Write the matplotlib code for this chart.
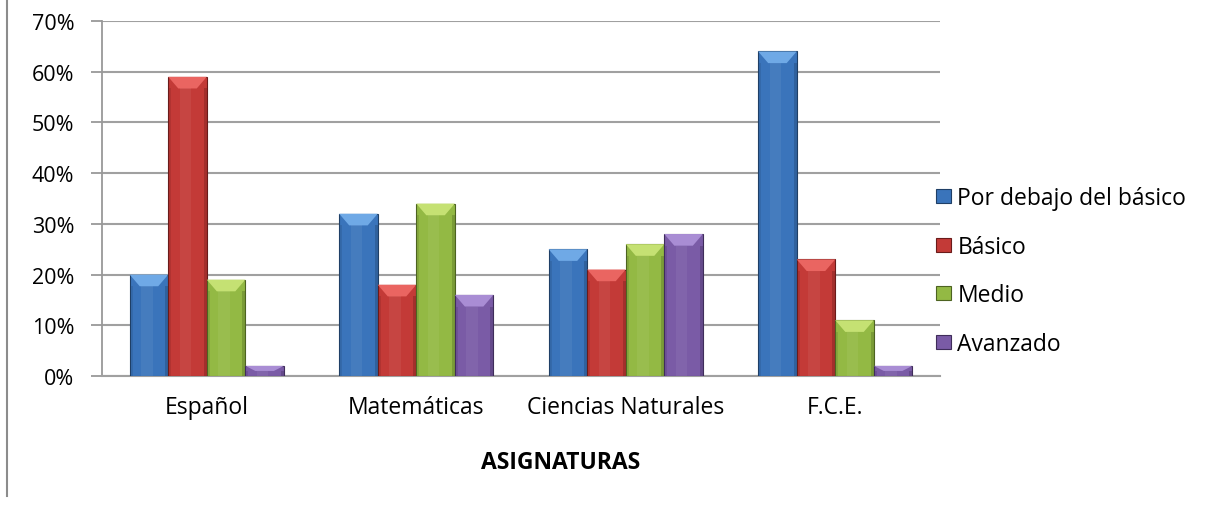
import matplotlib.pyplot as plt
from matplotlib.patches import Polygon, Patch
from matplotlib.lines import Line2D
import numpy as np

plt.rcParams['font.family'] = ['Open Sans', 'DejaVu Sans']

asignaturas = ['Español', 'Matemáticas', 'Ciencias Naturales', 'F.C.E.']
niveles = ['Por debajo del básico', 'Básico', 'Medio', 'Avanzado']
por_debajo = [20, 32, 25, 64]
basico = [59, 18, 21, 23]
medio = [19, 34, 26, 11]
avanzado = [2, 16, 28, 2]
yticks = [0, 10, 20, 30, 40, 50, 60, 70]

series = [por_debajo, basico, medio, avanzado]
# body, bevel highlight, edge
colores = [('#3a74bb', '#6fa9e6', '#1f3f66'),
           ('#c33a37', '#ea6561', '#6a1b1a'),
           ('#93b944', '#c5e173', '#4d6321'),
           ('#7a5ba6', '#a98dd4', '#3f2d5a')]

fig = plt.figure(figsize=(12.09, 5.06), dpi=100)
ax = fig.add_axes([0.0844, 0.2549, 0.6931, 0.7016])

w = 0.184
x = np.arange(len(asignaturas))
bev = 2.3
for j, vals in enumerate(series):
    body, light, edge = colores[j]
    xs = x + (j - 1.5) * w
    ax.bar(xs, vals, width=w, color=body, edgecolor=edge, linewidth=0.8, zorder=3)
    for xc, v in zip(xs, vals):
        d = min(bev, v * 0.5)
        ins = w * 0.26
        top = Polygon([[xc - w / 2, v], [xc + w / 2, v],
                       [xc + w / 2 - ins, v - d], [xc - w / 2 + ins, v - d]],
                      closed=True, facecolor=light, edgecolor='none', zorder=4)
        ax.add_patch(top)
        # darker side strips
        ax.bar(xc - w / 2 + w * 0.04, v - d, width=w * 0.08, bottom=0,
               color=edge, alpha=0.2, linewidth=0, zorder=4)
        ax.bar(xc + w / 2 - w * 0.04, v - d, width=w * 0.08, bottom=0,
               color=edge, alpha=0.35, linewidth=0, zorder=4)
        # faint highlight down the middle
        ax.bar(xc - w * 0.05, v - d, width=w * 0.3, bottom=0,
               color='white', alpha=0.06, linewidth=0, zorder=4)

ax.set_xlim(-0.5, 3.5)
ax.set_ylim(0, 70)
ax.set_yticks(yticks)
ax.set_yticklabels([f'{t}%' for t in yticks], fontsize=15.5)
ax.set_xticks(x)
ax.set_xticklabels(asignaturas, fontsize=16.5)
ax.tick_params(axis='x', length=0, pad=14)
ax.tick_params(axis='y', length=8, width=1.3, color='#999999', pad=12)
ax.yaxis.grid(True, color='#a0a0a0', linewidth=1.5, zorder=0)
for s in ['top', 'right']:
    ax.spines[s].set_visible(False)
ax.spines['left'].set_color('#999999')
ax.spines['left'].set_linewidth(1.3)
ax.spines['bottom'].set_color('#a0a0a0')
ax.spines['bottom'].set_linewidth(1.5)
ax.set_axisbelow(True)

fig.text(561 / 1209, 1 - 463 / 506, 'ASIGNATURAS', fontsize=16.5, fontweight='bold',
         ha='center', va='center')

handles = [Patch(facecolor=c[0], edgecolor=c[2], linewidth=0.8) for c in colores]
fig.legend(handles, niveles, loc='upper left', bbox_to_anchor=(936 / 1209, 1 - 187 / 506),
           frameon=False, fontsize=16.5, handlelength=0.65, handleheight=0.55,
           handletextpad=0.28, labelspacing=1.08, borderaxespad=0, borderpad=0)

# chart area border on the left
fig.add_artist(Line2D([7 / 1209, 7 / 1209], [1 - 497 / 506, 1.0],
                      color='#8c8c8c', linewidth=1.5))

fig.savefig('out.png', dpi=100)
